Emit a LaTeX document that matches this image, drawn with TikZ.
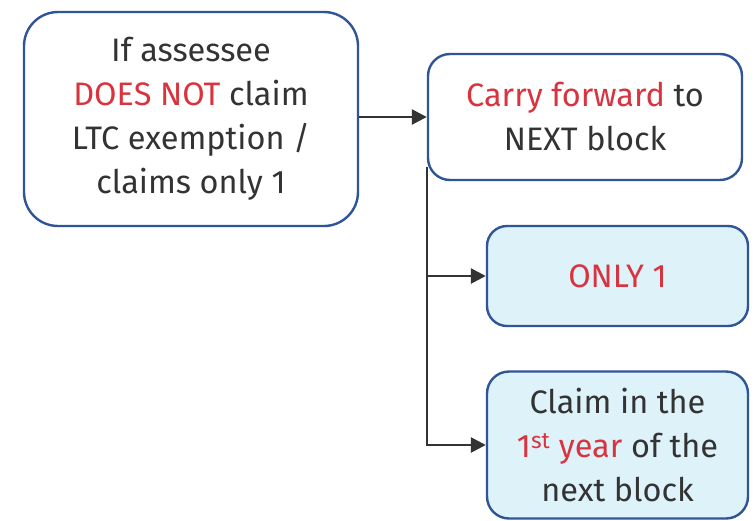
\documentclass[tikz,border=0pt]{standalone}
\usepackage{fontspec}
\setmainfont{Fira Sans}
\usetikzlibrary{arrows.meta}
\definecolor{boxblue}{HTML}{2F5597}
\definecolor{boxfill}{HTML}{DEF2FA}
\definecolor{hired}{HTML}{D9333F}
\definecolor{ink}{HTML}{333333}
\tikzset{
  blk/.style={draw=boxblue,line width=2.4pt,align=center,text=ink,
    font=\fontsize{32.5}{44}\selectfont,inner sep=0pt},
  blkw/.style={blk,fill=white},
  blkb/.style={blk,fill=boxfill},
  conn/.style={draw=ink,line width=2.6pt,-{Triangle[length=15pt,width=15pt]}}
}
\newcommand{\hl}[1]{\textcolor{hired}{#1}}
\begin{document}
\begin{tikzpicture}[x=1pt,y=-1pt]
	\useasboundingbox (0,0) rectangle (755,520);
	\node[blkw,rounded corners=34pt,minimum width=334pt,minimum height=214pt] (cond) at (191,119)
		{If assessee\\\hl{DOES NOT} claim\\LTC exemption /\\claims only 1};
	\node[blkw,rounded corners=22pt,minimum width=314pt,minimum height=126pt] (carry) at (585,117)
		{\hl{Carry forward} to\\NEXT block};
	\node[blkb,rounded corners=20pt,minimum width=261pt,minimum height=100pt] (one) at (617.5,276)
		{\hl{ONLY 1}};
	\node[blkb,rounded corners=22pt,minimum width=261pt,minimum height=147pt] (first) at (617.5,445)
		{Claim in the\\\hl{1\textsuperscript{st} year} of the\\next block};
	\coordinate (trunk) at ([yshift=14pt]carry.south west);
	\draw[conn] (cond.east |- carry.west) -- (carry.west);
	\draw[conn] (trunk) |- (one.west);
	\draw[conn] (trunk) |- (first.west);
\end{tikzpicture}
\end{document}
